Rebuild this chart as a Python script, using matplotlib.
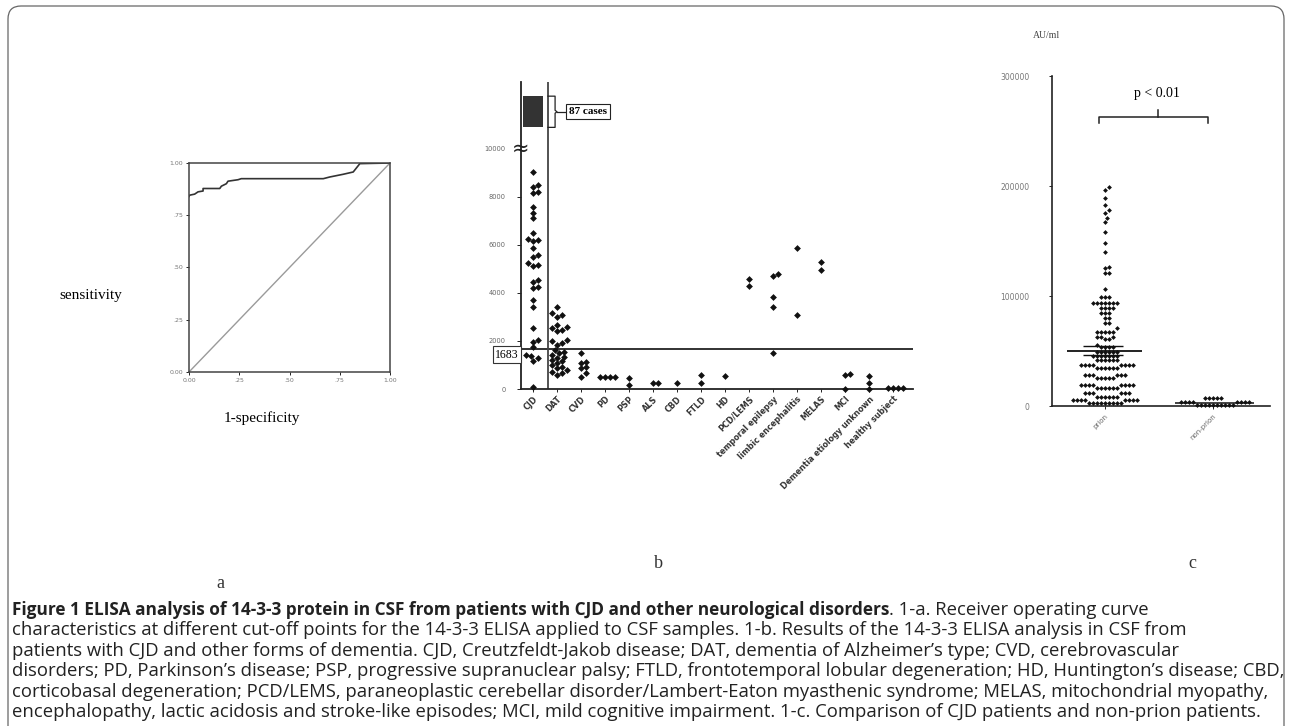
import numpy as np
import matplotlib
matplotlib.use("Agg")
import matplotlib.pyplot as plt
from matplotlib.patches import FancyBboxPatch

# ---- panel a: ROC curve (1-specificity, sensitivity) ----
roc_fpr = [0.0, 0.003, 0.028, 0.045, 0.07, 0.07, 0.153, 0.161, 0.186, 0.194, 0.244, 0.26,
           0.668, 0.70, 0.767, 0.817, 0.85, 1.0]
roc_tpr = [0.84, 0.846, 0.851, 0.862, 0.866, 0.878, 0.878, 0.889, 0.901, 0.913, 0.92, 0.925,
           0.925, 0.933, 0.946, 0.957, 0.997, 1.0]
roc_ticks = [0, 0.25, 0.5, 0.75, 1.0]
roc_ticklabels = ["0.00", ".25", ".50", ".75", "1.00"]

# ---- panel b: 14-3-3 levels per diagnosis ----
groups = ["CJD", "DAT", "CVD", "PD", "PSP", "ALS", "CBD", "FTLD", "HD", "PCD/LEMS",
          "temporal epilepsy", "limbic encephalitis", "MELAS", "MCI",
          "Dementia etiology unknown", "healthy subject"]
group_values = [
    [9050, 8500, 8430, 8220, 8150, 7600, 7320, 7110, 6490, 6240, 6210, 6180, 5860, 5580,
     5510, 5240, 5170, 5130, 4540, 4470, 4260, 4200, 3710, 3430, 2530, 2040, 1970, 1760,
     1420, 1380, 1280, 1180, 100],
    [3430, 3150, 3080, 3020, 2670, 2600, 2530, 2460, 2400, 2040, 1980, 1900, 1850, 1625,
     1560, 1490, 1420, 1350, 1300, 1210, 1150, 1070, 1000, 930, 870, 790, 720, 650, 600],
    [1500, 1140, 1080, 920, 875, 670, 500],
    [520, 510, 505, 500],
    [460, 170],
    [250, 230],
    [260],
    [580, 240],
    [540],
    [4600, 4290],
    [4800, 4720, 3850, 3430, 1510],
    [5875, 3080],
    [5300, 4960],
    [620, 600, 0],
    [560, 240, 0],
    [30, 30, 30, 30],
]
cjd_over_10000 = 87
cutoff = 1683
b_ticks = [0, 2000, 4000, 6000, 8000, 10000]

# ---- panel c: prion vs non-prion (AU/ml) ----
prion_levels = [198800, 196400, 188800, 182700, 178200, 175700, 171200, 167600, 158500,
                148500, 140300, 126100, 125200, 120600, 106100, 99400, 93300, 88800, 84200,
                79700, 75200, 70600, 67600, 63000, 60600, 55500, 54000, 49400, 45500, 41800,
                37300, 34200, 28200, 25200, 19100, 16100, 11500, 8500, 5500, 2500]
prion_counts = [1, 1, 1, 1, 1, 1, 1, 1, 1, 1, 1, 1, 1, 2, 1, 3, 7, 4, 3, 2, 2, 1, 5, 3, 2,
                1, 4, 6, 7, 6, 8, 6, 6, 5, 8, 6, 6, 6, 8, 9]
nonprion_levels = [7000, 3900, 900]
nonprion_counts = [5, 8, 10]
prion_mean, prion_sem = 50300, 4300
nonprion_mean = 2500
c_groups = ["prion", "non-prion"]
c_ticks = [0, 100000, 200000, 300000]


def swarm(values, ypx, xpx, d):
    # simple beeswarm: place each point at the nearest free horizontal offset
    vals = np.asarray(values, float)
    xs = np.zeros(len(vals))
    placed = []
    offs = [0.0]
    for k in range(1, 80):
        offs += [k * d * 0.5, -k * d * 0.5]
    for i in np.argsort(vals):
        y = vals[i] * ypx
        for o in offs:
            if all((o - px) ** 2 + (y - py) ** 2 >= d * d for px, py in placed):
                break
        placed.append((o, y))
        xs[i] = o / xpx
    return xs


W, H = 1292, 726
fig = plt.figure(figsize=(W / 100, H / 100), dpi=100)


def axes_px(x0, y0, x1, y1):
    return fig.add_axes([x0 / W, 1 - y1 / H, (x1 - x0) / W, (y1 - y0) / H])


# outer rounded frame
frame = FancyBboxPatch((0.08, -0.3), 12.76, 7.26 - 0.06 + 0.3,
                       boxstyle="round,pad=0,rounding_size=0.13",
                       transform=fig.dpi_scale_trans, fc="none", ec="#666666", lw=0.9)
fig.patches.append(frame)

serif = ["Liberation Serif", "DejaVu Serif"]

# ---------- panel a ----------
axa = axes_px(189, 163, 390, 372)
axa.plot([0, 1], [0, 1], color="#9a9a9a", lw=1.0)
axa.plot(roc_fpr, roc_tpr, color="#333333", lw=1.2)
axa.set_xlim(0, 1)
axa.set_ylim(0, 1)
axa.set_xticks(roc_ticks)
axa.set_xticklabels(roc_ticklabels)
axa.set_yticks(roc_ticks)
axa.set_yticklabels(roc_ticklabels)
axa.tick_params(labelsize=4.5, labelcolor="#777777", length=2, width=0.6, pad=2)
for s in axa.spines.values():
    s.set_color("#444444")
    s.set_linewidth(1.1)
fig.text(91 / W, 1 - 296 / H, "sensitivity", family=serif, fontsize=11,
         ha="center", va="center")
fig.text(262 / W, 1 - 418 / H, "1-specificity", family=serif, fontsize=11,
         ha="center", va="center")

# ---------- panel b ----------
axb = axes_px(521, 82, 913, 389)
ypx_b = 48 / 2000
xpx_b = 24
for i, vals in enumerate(group_values):
    xo = swarm(vals, ypx_b, xpx_b, 4.8)
    axb.scatter(i + xo, vals, s=12, marker="D", color="#111111", lw=0, clip_on=False,
                zorder=3)
axb.set_xlim(-0.5, 15.83)
axb.set_ylim(0, 12790)
axb.axhline(cutoff, color="#222222", lw=1.3, zorder=2)
axb.axvline(0.625, color="#444444", lw=1.3, zorder=2)
# block for CJD cases above 10000
blk_lo, blk_hi = 10900, 12200
axb.bar(0, blk_hi - blk_lo, bottom=blk_lo, width=0.85, color="#333333", zorder=3)
bx0, bx1, bx2, bx3 = 0.625, 0.92, 1.0, 1.45
bm = (blk_lo + blk_hi) / 2
axb.plot([bx0, bx1, bx1, bx2, bx1, bx1, bx0],
         [blk_hi, blk_hi, bm + 60, bm, bm - 60, blk_lo, blk_lo], color="#222222", lw=0.9)
axb.plot([bx2, bx3], [bm, bm], color="#222222", lw=0.9)
axb.text(bx3 + 0.05, bm, f"{cjd_over_10000} cases", family=serif, fontsize=8,
         weight="bold", ha="left", va="center",
         bbox=dict(boxstyle="square,pad=0.25", fc="white", ec="#222222", lw=0.8))
axb.text(-0.6, cutoff - 250, str(cutoff), family=serif, fontsize=8.5, ha="right",
         va="center",
         bbox=dict(boxstyle="square,pad=0.2", fc="white", ec="#333333", lw=0.8))
axb.text(-0.5, 10000, "≈", fontsize=15, ha="center", va="center", color="#222222")
axb.spines["top"].set_visible(False)
axb.spines["right"].set_visible(False)
for s in ["left", "bottom"]:
    axb.spines[s].set_linewidth(1.3)
    axb.spines[s].set_color("#222222")
axb.set_yticks(b_ticks)
axb.set_yticklabels([str(t) for t in b_ticks])
axb.set_xticks(range(len(groups)))
axb.set_xticklabels(groups, rotation=45, ha="right", rotation_mode="anchor",
                    fontsize=5.8, weight="bold", color="#333333")
axb.tick_params(axis="y", labelsize=4.8, labelcolor="#666666", length=3, width=0.6, pad=8)
axb.tick_params(axis="x", length=2, width=0.6, pad=2)

# ---------- panel c ----------
axc = axes_px(1052, 76, 1270, 406)
ypx_c = 110 / 100000
xpx_c = 108
prion = np.repeat(prion_levels, prion_counts)
nonprion = np.repeat(nonprion_levels, nonprion_counts)
for i, vals in enumerate([prion, nonprion]):
    xo = swarm(vals, ypx_c, xpx_c, 4.0)
    axc.scatter(i + xo, vals, s=6, marker="D", color="#111111", lw=0, clip_on=False,
                zorder=3)
axc.hlines(prion_mean, -0.35, 0.34, color="#111111", lw=1.3, zorder=4)
axc.hlines([prion_mean - prion_sem, prion_mean + prion_sem], -0.2, 0.17,
           color="#111111", lw=1.0, zorder=4)
axc.vlines(0, prion_mean - prion_sem, prion_mean + prion_sem, color="#111111", lw=1.0,
           zorder=4)
axc.hlines(nonprion_mean, 0.65, 1.38, color="#111111", lw=1.1, zorder=4)
# significance bracket
sy = 262700
axc.plot([-0.05, -0.05, 0.96, 0.96], [sy - 5500, sy, sy, sy - 5500], color="#222222",
         lw=1.1, clip_on=False)
axc.plot([0.49, 0.49], [sy, sy + 6000], color="#222222", lw=1.1, clip_on=False)
axc.text(0.48, sy + 21000, "p < 0.01", family=serif, fontsize=10, ha="center",
         va="center")
axc.set_xlim(-0.49, 1.53)
axc.set_ylim(0, 300000)
axc.spines["top"].set_visible(False)
axc.spines["right"].set_visible(False)
for s in ["left", "bottom"]:
    axc.spines[s].set_linewidth(1.2)
    axc.spines[s].set_color("#222222")
axc.set_yticks(c_ticks)
axc.set_yticklabels([str(t) for t in c_ticks])
axc.set_xticks([0, 1])
axc.set_xticklabels(c_groups, rotation=45, ha="right", rotation_mode="anchor",
                    fontsize=5, color="#666666")
axc.tick_params(axis="y", labelsize=5.5, labelcolor="#777777", length=2, width=0.6, pad=14)
axc.tick_params(axis="x", length=2, width=0.6, pad=3)
fig.text(1047 / W, 1 - 35 / H, "AU/ml", family=serif, fontsize=7, ha="center",
         va="center", color="#444444")

# panel letters
for lab, x, y in [("a", 220, 583), ("b", 658, 563), ("c", 1192, 563)]:
    fig.text(x / W, 1 - y / H, lab, family=serif, fontsize=13, ha="center", va="center",
             color="#333333")

# ---------- caption ----------
cap_bold = ("Figure 1 ELISA analysis of 14-3-3 protein in CSF from patients with CJD and "
            "other neurological disorders")
cap_lines = [
    ". 1-a. Receiver operating curve",
    "characteristics at different cut-off points for the 14-3-3 ELISA applied to CSF "
    "samples. 1-b. Results of the 14-3-3 ELISA analysis in CSF from",
    "patients with CJD and other forms of dementia. CJD, Creutzfeldt-Jakob disease; DAT, "
    "dementia of Alzheimer\u2019s type; CVD, cerebrovascular",
    "disorders; PD, Parkinson\u2019s disease; PSP, progressive supranuclear palsy; FTLD, "
    "frontotemporal lobular degeneration; HD, Huntington\u2019s disease; CBD,",
    "corticobasal degeneration; PCD/LEMS, paraneoplastic cerebellar disorder/Lambert-Eaton "
    "myasthenic syndrome; MELAS, mitochondrial myopathy,",
    "encephalopathy, lactic acidosis and stroke-like episodes; MCI, mild cognitive "
    "impairment. 1-c. Comparison of CJD patients and non-prion patients.",
]
cap_font = ["Open Sans", "DejaVu Sans"]
renderer = fig.canvas.get_renderer()


def text_w(s, **kw):
    t = fig.text(0, 0, s, family=cap_font, fontsize=10, **kw)
    w = t.get_window_extent(renderer).width
    t.remove()
    return w


widest = max(text_w(s) for s in cap_lines[1:])
fs = 10 * 1270 / widest
fs_bold = min(fs, 10 * 878 / text_w(cap_bold, weight="bold"))
x0 = 12 / W
for k in range(6):
    yb = 1 - (615 + 20.4 * k) / H
    if k == 0:
        tb = fig.text(x0, yb, cap_bold, family=cap_font, fontsize=fs_bold, weight="bold",
                      va="baseline", color="#222222")
        bb = tb.get_window_extent(renderer)
        fig.text(bb.x1 / W, yb, cap_lines[0], family=cap_font, fontsize=fs,
                 va="baseline", color="#222222")
    else:
        fig.text(x0, yb, cap_lines[k], family=cap_font, fontsize=fs, va="baseline",
                 color="#222222")

fig.savefig("out.png", dpi=100)
